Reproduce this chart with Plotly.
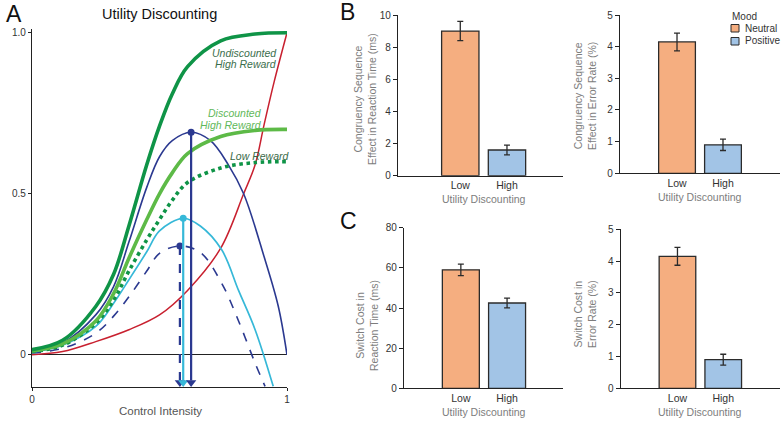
import plotly.graph_objects as go

W, H = 781, 421
def fx(p): return p / W
def fy(p): return 1 - p / H

FONT = "Liberation Sans, Arial, sans-serif"

# ---------------- Panel A data ----------------
ci_x = [0, 0.12, 0.25, 0.32, 0.38, 0.45, 0.50, 0.55, 0.61, 0.74, 0.875, 1.0]
undiscounted_high = [0.016, 0.045, 0.15, 0.25, 0.40, 0.59, 0.71, 0.81, 0.895, 0.975, 0.996, 1.0]
discounted_high = [0.012, 0.034, 0.105, 0.19, 0.30, 0.42, 0.50, 0.565, 0.625, 0.678, 0.697, 0.70]
low_reward = [0.01, 0.03, 0.098, 0.17, 0.26, 0.357, 0.42, 0.48, 0.535, 0.58, 0.597, 0.60]

cost_x = [0, 0.12, 0.25, 0.38, 0.5, 0.61, 0.74, 0.83, 0.875, 0.91, 0.95, 1.0]
cost = [0, 0.01, 0.041, 0.078, 0.124, 0.20, 0.331, 0.50, 0.59, 0.714, 0.849, 1.0]

net_high_x = [0, 0.12, 0.25, 0.32, 0.38, 0.45, 0.50, 0.55, 0.624, 0.70, 0.77, 0.83, 0.91, 0.966, 1.0]
net_high = [0.012, 0.037, 0.124, 0.212, 0.35, 0.52, 0.615, 0.665, 0.691, 0.665, 0.59, 0.50, 0.305, 0.15, 0.0]

net_disc_x = [0, 0.12, 0.25, 0.32, 0.38, 0.45, 0.50, 0.593, 0.66, 0.744, 0.81, 0.875, 0.946]
net_disc = [0.008, 0.03, 0.088, 0.16, 0.233, 0.32, 0.385, 0.424, 0.40, 0.326, 0.20, 0.078, -0.098]

net_low_x = [0, 0.12, 0.25, 0.32, 0.38, 0.45, 0.50, 0.58, 0.66, 0.744, 0.81, 0.875, 0.914]
net_low = [0.006, 0.02, 0.067, 0.12, 0.18, 0.26, 0.315, 0.338, 0.318, 0.222, 0.105, -0.026, -0.098]

A_YMIN, A_YMAX = -0.1, 1.012

# ---------------- Panels B/C data ----------------
categories = ["Low", "High"]
moods = ["Neutral", "Positive"]
cse_rt = [9.0, 1.6]
cse_rt_err = [0.6, 0.3]
cse_er = [4.15, 0.9]
cse_er_err = [0.28, 0.18]
sc_rt = [59.0, 42.5]
sc_rt_err = [2.9, 2.4]
sc_er = [4.15, 0.9]
sc_er_err = [0.28, 0.17]

C_DGREEN = "#0f9447"
C_LGREEN = "#5dba47"
C_NAVY = "#2b3990"
C_CYAN = "#36b8d8"
C_RED = "#c8202f"
C_ORANGE = "#f5ae80"
C_BLUE = "#a2c4e6"

fig = go.Figure()

def line(x, y, color, width, dash="solid"):
    fig.add_trace(go.Scatter(x=x, y=y, mode="lines", xaxis="x", yaxis="y",
                             line=dict(color=color, width=width, dash=dash, shape="spline", smoothing=1.0),
                             showlegend=False, hoverinfo="skip"))

line(cost_x, cost, C_RED, 1.5)
line(net_low_x, net_low, C_NAVY, 1.6, "dash")
line(net_disc_x, net_disc, C_CYAN, 1.7)
line(net_high_x, net_high, C_NAVY, 1.6)
line(ci_x, low_reward, C_DGREEN, 3.6, "dot")
line(ci_x, discounted_high, C_LGREEN, 3.6)
line(ci_x, undiscounted_high, C_DGREEN, 3.6)

# drop lines from the peaks of the net-value curves
for xs, ys, color, dash in [(net_low_x, net_low, C_NAVY, "dash"),
                            (net_disc_x, net_disc, C_CYAN, "solid"),
                            (net_high_x, net_high, C_NAVY, "solid")]:
    i = ys.index(max(ys))
    px, py = xs[i], ys[i]
    fig.add_trace(go.Scatter(x=[px, px], y=[py, A_YMIN + 0.02], mode="lines", xaxis="x", yaxis="y",
                             line=dict(color=color, width=2.2, dash=dash),
                             showlegend=False, hoverinfo="skip"))
    fig.add_trace(go.Scatter(x=[px], y=[py], mode="markers", xaxis="x", yaxis="y",
                             marker=dict(color=color, size=7, symbol="circle"),
                             showlegend=False, hoverinfo="skip"))
    fig.add_trace(go.Scatter(x=[px], y=[A_YMIN + 0.014], mode="markers", xaxis="x", yaxis="y",
                             marker=dict(color=color, size=9, symbol="triangle-down"),
                             showlegend=False, hoverinfo="skip", cliponaxis=False))

# ---------------- bar panels ----------------
def bars(ax, vals, errs):
    fig.add_trace(go.Bar(x=categories, y=vals, xaxis="x" + ax, yaxis="y" + ax, width=0.8,
                         marker=dict(color=[C_ORANGE, C_BLUE], line=dict(color="#2b2b2b", width=1.3)),
                         error_y=dict(type="data", array=errs, color="#2b2b2b", thickness=1.3, width=3),
                         showlegend=False, hoverinfo="skip"))

bars("2", cse_rt, cse_rt_err)
bars("3", cse_er, cse_er_err)
bars("4", sc_rt, sc_rt_err)
bars("5", sc_er, sc_er_err)

tickfont = dict(family=FONT, size=10, color="#333")

def yax(dom_px, rng, dtick, anchor):
    return dict(domain=[fy(dom_px[1]), fy(dom_px[0])], range=rng, dtick=dtick, anchor=anchor,
                showline=True, linecolor="#222", linewidth=1.2, ticks="outside", ticklen=4,
                tickcolor="#222", tickwidth=1.2, showgrid=False, zeroline=False, tickfont=tickfont,
                fixedrange=True)

def xax(dom_px, rng, anchor):
    return dict(domain=[fx(dom_px[0]), fx(dom_px[1])], range=rng, anchor=anchor, type="category",
                showline=True, linecolor="#222", linewidth=1.2, ticks="", showgrid=False,
                zeroline=False, tickfont=dict(family=FONT, size=10.5, color="#333"), fixedrange=True)

layout = dict(
    autosize=True, margin=dict(l=0, r=0, t=0, b=0, autoexpand=False),
    paper_bgcolor="white", plot_bgcolor="rgba(0,0,0,0)",
    font=dict(family=FONT, color="#333"),
    xaxis=dict(domain=[fx(32), fx(287)], range=[0, 1], anchor="y", showline=True, linecolor="#222",
               linewidth=1.2, tickvals=[0, 1], ticktext=["0", "1"], ticks="outside", ticklen=3,
               tickcolor="#222", showgrid=False, zeroline=False, tickfont=tickfont, fixedrange=True),
    yaxis=dict(domain=[fy(387), fy(387 - (A_YMAX - A_YMIN) * 322)], range=[A_YMIN, A_YMAX], anchor="x",
               showline=True, linecolor="#222", linewidth=1.2, tickvals=[0, 0.5, 1.0],
               ticktext=["0", "0.5", "1.0"], ticks="outside", ticklen=3, tickcolor="#222",
               showgrid=False, zeroline=True, zerolinecolor="#222", zerolinewidth=1.2,
               tickfont=tickfont, fixedrange=True),
    xaxis2=xax((398, 563), [-1.334, 2.2], "y2"),
    yaxis2=yax((15, 175.7), [0, 10], 2, "x2"),
    xaxis3=xax((620, 780), [-1.24, 2.24], "y3"),
    yaxis3=yax((15, 173.3), [0, 5], 1, "x3"),
    xaxis4=xax((404, 563), [-1.23, 2.21], "y4"),
    yaxis4=yax((227.7, 388.3), [0, 80], 20, "x4"),
    xaxis5=xax((620.7, 780), [-1.24, 2.24], "y5"),
    yaxis5=yax((229.3, 388.3), [0, 5], 1, "x5"),
    showlegend=False,
)
fig.update_layout(**layout)

ann = []
def text(x, y, s, size, color="#333", xanchor="center", yanchor="middle", angle=0, italic=False, align="center"):
    ann.append(dict(x=fx(x), y=fy(y), xref="paper", yref="paper", text=s, showarrow=False,
                    xanchor=xanchor, yanchor=yanchor, textangle=angle, align=align,
                    font=dict(family=FONT, size=size, color=color,
                              style="italic" if italic else "normal")))

# panel letters / titles
text(4, 14, "A", 23, "#111", xanchor="left")
text(338, 12, "B", 23, "#111", xanchor="left")
text(338, 221, "C", 23, "#111", xanchor="left")
text(159, 14, "Utility Discounting", 14.5, "#111")
text(160, 411, "Control Intensity", 11.5, "#555")

# curve labels
text(279, 53, "Undiscounted", 10.5, "#3b6e4c", xanchor="right", italic=True)
text(279, 64.5, "High Reward", 10.5, "#3b6e4c", xanchor="right", italic=True)
text(264, 112.5, "Discounted", 10.5, "#5fb85a", xanchor="right", italic=True)
text(264, 124.5, "High Reward", 10.5, "#5fb85a", xanchor="right", italic=True)
text(292, 156, "Low Reward", 10.5, "#3a6a48", xanchor="right", italic=True)

# bar panel axis titles
GRAY = "#7d7d7d"
text(484, 199, "Utility Discounting", 10.5, GRAY)
text(700, 197, "Utility Discounting", 10.5, GRAY)
text(484, 412, "Utility Discounting", 10.5, GRAY)
text(700, 412, "Utility Discounting", 10.5, GRAY)
text(365, 99, "Congruency Sequence<br>Effect in Reaction Time (ms)", 10.5, GRAY, angle=-90)
text(585, 96, "Congruency Sequence<br>Effect in Error Rate (%)", 10.5, GRAY, angle=-90)
text(367, 326, "Switch Cost in<br>Reaction Time (ms)", 10.5, GRAY, angle=-90)
text(585, 314, "Switch Cost in<br>Error Rate (%)", 10.5, GRAY, angle=-90)

# legend (manual)
text(730, 16, "Mood", 10, "#333", xanchor="left")
text(743, 28, moods[0], 10, "#333", xanchor="left")
text(743, 41, moods[1], 10, "#333", xanchor="left")
shapes = [
    dict(type="rect", xref="paper", yref="paper", x0=fx(731), x1=fx(739), y0=fy(32), y1=fy(24.5),
         fillcolor=C_ORANGE, line=dict(color="#2b2b2b", width=1)),
    dict(type="rect", xref="paper", yref="paper", x0=fx(731), x1=fx(739), y0=fy(45), y1=fy(37.5),
         fillcolor=C_BLUE, line=dict(color="#2b2b2b", width=1)),
]
fig.update_layout(annotations=ann, shapes=shapes)

fig.write_html("out.html",
               config={"displayModeBar": False, "responsive": True},
               default_width="100vw", default_height="100vh",
               post_script="document.documentElement.style.margin='0';document.body.style.margin='0';"
                           "document.documentElement.style.overflow='hidden';document.body.style.overflow='hidden';")
